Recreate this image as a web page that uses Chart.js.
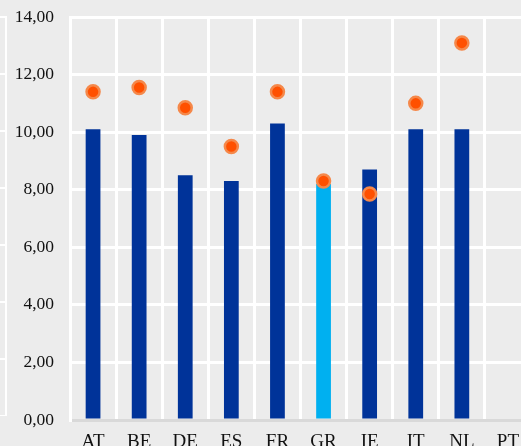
<!DOCTYPE html>
<html>
<head>
<meta charset="utf-8">
<script src="https://cdn.jsdelivr.net/npm/chart.js@4/dist/chart.umd.min.js"></script>
<style>
  html, body { margin: 0; padding: 0; background: #ececec; overflow: hidden; }
  #wrap { position: relative; width: 521px; height: 446px; overflow: hidden; }
  #side {
    position: absolute; left: 0; top: 16px; width: 5px; height: 398px;
    border-top: 2px solid #fff; border-right: 2px solid #fff;
    background: repeating-linear-gradient(to bottom, #ececec 0, #ececec 55px, #fff 55px, #fff 57px);
  }
  #chart { position: absolute; left: 0; top: 0; }
</style>
</head>
<body>
<div id="wrap">
  <div id="side"></div>
  <canvas id="chart" width="540" height="446"></canvas>
</div>
<script>
// Chart data
const countries = ['AT', 'BE', 'DE', 'ES', 'FR', 'GR', 'IE', 'IT', 'NL', 'PT'];
const barValues = [10.1, 9.9, 8.5, 8.3, 10.3, 8.2, 8.7, 10.1, 10.1, null];
const dotValues = [11.4, 11.55, 10.85, 9.5, 11.4, 8.3, 7.85, 11.0, 13.1, null];
const highlight = 'GR';

const darkBlue = '#003399';
const lightBlue = '#00b0f0';

const fmt = v => v.toFixed(2).replace('.', ',');

document.addEventListener('DOMContentLoaded', () => {
    const ctx = document.getElementById('chart');
    Chart.defaults.font.family = '"Liberation Serif", "DejaVu Serif", serif';
    Chart.defaults.font.size = 17.5;
    Chart.defaults.color = '#111';

    new Chart(ctx, {
        data: {
            labels: countries,
            datasets: [{
                type: 'line',
                data: dotValues,
                showLine: false,
                pointRadius: 6.5,
                pointBorderWidth: 2.5,
                pointBackgroundColor: '#ff5000',
                pointBorderColor: '#f5884a',
                order: 0
            }, {
                type: 'bar',
                data: barValues,
                backgroundColor: countries.map(c => c === highlight ? lightBlue : darkBlue),
                categoryPercentage: 1,
                barPercentage: 0.32,
                order: 1
            }]
        },
        options: {
            responsive: false,
            animation: false,
            layout: { padding: { top: 17, left: 0, right: 0, bottom: 0 } },
            plugins: {
                legend: { display: false },
                tooltip: { enabled: false }
            },
            scales: {
                x: {
                    offset: true,
                    grid: { color: '#fff', lineWidth: 3, offset: true, drawTicks: false },
                    border: { color: '#d9d9d9', width: 3 },
                    ticks: { padding: 11, font: { size: 19 } },
                    afterFit: s => { s.height = 26; s.paddingLeft = 0; s.paddingRight = 0; }
                },
                y: {
                    min: 0,
                    max: 14,
                    ticks: { stepSize: 2, padding: 16, callback: v => fmt(v) },
                    grid: {
                        color: c => c.tick && c.tick.value === 0 ? '#d9d9d9' : '#fff',
                        lineWidth: 3,
                        drawTicks: false
                    },
                    border: { color: '#fff', width: 3 },
                    afterFit: s => { s.width = 70; s.paddingTop = 0; s.paddingBottom = 0; }
                }
            }
        }
    });
});
</script>
</body>
</html>
